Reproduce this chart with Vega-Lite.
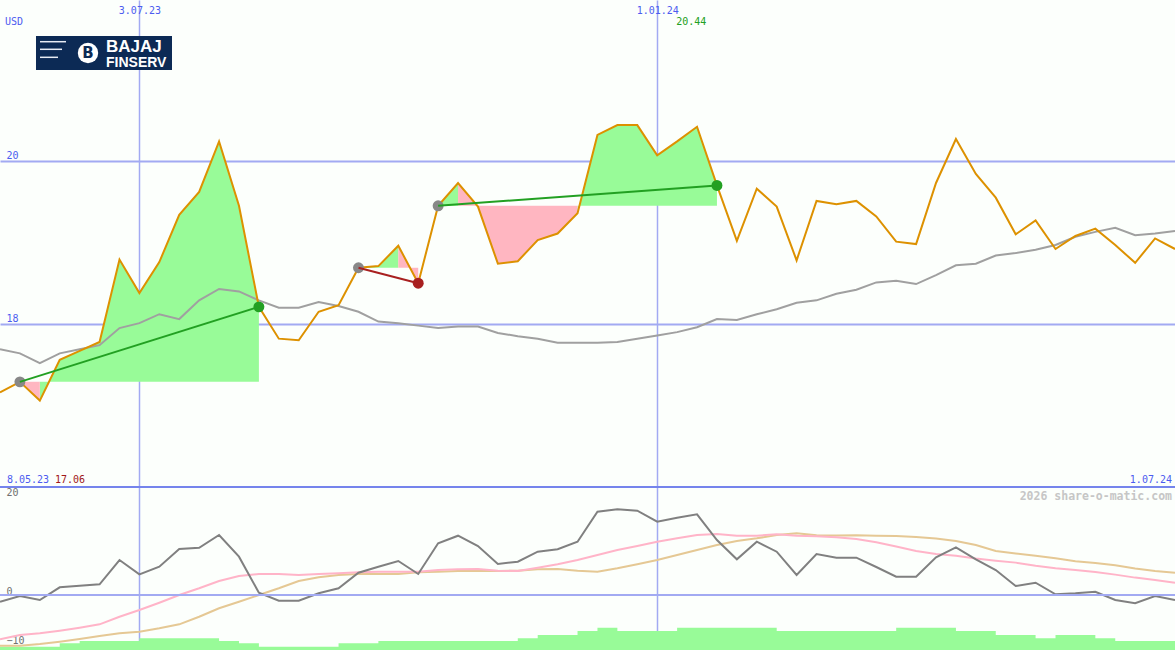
{
  "$schema": "https://vega.github.io/schema/vega-lite/v6.json",
  "background": "#fcfffc",
  "padding": 0,
  "spacing": 0,
  "bounds": "flush",
  "config": {
    "view": {"stroke": null},
    "axis": {"labelFont": "DejaVu Sans Mono", "labelFontSize": 10}
  },
  "datasets": {
    "px": [
      {"date": "2023-05-15", "close": 17.16, "ma": 17.69, "osc": -1.37, "s1": -9.04, "s2": -10.35, "vol": -10.55},
      {"date": "2023-05-22", "close": 17.29, "ma": 17.64, "osc": -0.20, "s1": -8.16, "s2": -10.35, "vol": -10.55},
      {"date": "2023-05-29", "close": 17.06, "ma": 17.52, "osc": -1.02, "s1": -7.82, "s2": -10.0, "vol": -10.55},
      {"date": "2023-06-05", "close": 17.56, "ma": 17.64, "osc": 1.57, "s1": -7.29, "s2": -9.53, "vol": -9.86},
      {"date": "2023-06-12", "close": 17.67, "ma": 17.69, "osc": 1.90, "s1": -6.67, "s2": -8.98, "vol": -9.39},
      {"date": "2023-06-19", "close": 17.78, "ma": 17.74, "osc": 2.18, "s1": -5.98, "s2": -8.37, "vol": -9.39},
      {"date": "2023-06-26", "close": 18.79, "ma": 17.95, "osc": 7.14, "s1": -4.43, "s2": -7.82, "vol": -9.39},
      {"date": "2023-07-03", "close": 18.38, "ma": 18.01, "osc": 4.22, "s1": -3.06, "s2": -7.49, "vol": -8.84},
      {"date": "2023-07-10", "close": 18.76, "ma": 18.12, "osc": 5.78, "s1": -1.57, "s2": -6.80, "vol": -8.84},
      {"date": "2023-07-17", "close": 19.34, "ma": 18.06, "osc": 9.39, "s1": 0.0, "s2": -5.98, "vol": -8.84},
      {"date": "2023-07-24", "close": 19.62, "ma": 18.29, "osc": 9.65, "s1": 1.37, "s2": -4.43, "vol": -8.84},
      {"date": "2023-07-31", "close": 20.24, "ma": 18.43, "osc": 12.24, "s1": 2.86, "s2": -2.71, "vol": -9.39},
      {"date": "2023-08-07", "close": 19.45, "ma": 18.40, "osc": 7.82, "s1": 3.88, "s2": -1.37, "vol": -9.86},
      {"date": "2023-08-14", "close": 18.21, "ma": 18.29, "osc": 0.47, "s1": 4.29, "s2": 0.0, "vol": -10.55},
      {"date": "2023-08-21", "close": 17.82, "ma": 18.20, "osc": -1.16, "s1": 4.29, "s2": 1.37, "vol": -10.55},
      {"date": "2023-08-28", "close": 17.80, "ma": 18.20, "osc": -1.16, "s1": 4.08, "s2": 2.86, "vol": -10.55},
      {"date": "2023-09-04", "close": 18.15, "ma": 18.27, "osc": 0.35, "s1": 4.29, "s2": 3.61, "vol": -10.55},
      {"date": "2023-09-11", "close": 18.23, "ma": 18.22, "osc": 1.37, "s1": 4.43, "s2": 4.08, "vol": -9.86},
      {"date": "2023-09-18", "close": 18.69, "ma": 18.15, "osc": 4.55, "s1": 4.63, "s2": 4.29, "vol": -9.86},
      {"date": "2023-09-25", "close": 18.71, "ma": 18.03, "osc": 5.78, "s1": 4.76, "s2": 4.29, "vol": -9.39},
      {"date": "2023-10-02", "close": 18.96, "ma": 18.01, "osc": 6.94, "s1": 4.76, "s2": 4.29, "vol": -9.39},
      {"date": "2023-10-09", "close": 18.50, "ma": 17.98, "osc": 4.29, "s1": 4.76, "s2": 4.63, "vol": -9.39},
      {"date": "2023-10-16", "close": 19.45, "ma": 17.95, "osc": 10.55, "s1": 5.10, "s2": 4.76, "vol": -9.39},
      {"date": "2023-10-23", "close": 19.73, "ma": 17.97, "osc": 12.10, "s1": 5.24, "s2": 4.90, "vol": -9.39},
      {"date": "2023-10-30", "close": 19.44, "ma": 17.97, "osc": 10.0, "s1": 5.31, "s2": 4.96, "vol": -9.39},
      {"date": "2023-11-06", "close": 18.74, "ma": 17.89, "osc": 6.33, "s1": 4.96, "s2": 4.90, "vol": -9.39},
      {"date": "2023-11-13", "close": 18.77, "ma": 17.85, "osc": 6.80, "s1": 4.90, "s2": 4.96, "vol": -8.84},
      {"date": "2023-11-20", "close": 19.03, "ma": 17.82, "osc": 8.84, "s1": 5.57, "s2": 5.24, "vol": -8.16},
      {"date": "2023-11-27", "close": 19.11, "ma": 17.77, "osc": 9.33, "s1": 6.27, "s2": 5.31, "vol": -8.16},
      {"date": "2023-12-04", "close": 19.36, "ma": 17.77, "osc": 10.88, "s1": 7.14, "s2": 4.96, "vol": -7.35},
      {"date": "2023-12-11", "close": 20.32, "ma": 17.77, "osc": 17.0, "s1": 8.16, "s2": 4.76, "vol": -6.67},
      {"date": "2023-12-18", "close": 20.44, "ma": 17.78, "osc": 17.49, "s1": 9.18, "s2": 5.45, "vol": -7.35},
      {"date": "2023-12-25", "close": 20.44, "ma": 17.82, "osc": 17.2, "s1": 10.0, "s2": 6.27, "vol": -7.35},
      {"date": "2024-01-01", "close": 20.07, "ma": 17.86, "osc": 14.96, "s1": 10.88, "s2": 7.14, "vol": -7.35},
      {"date": "2024-01-08", "close": 20.24, "ma": 17.90, "osc": 15.78, "s1": 11.57, "s2": 8.16, "vol": -6.67},
      {"date": "2024-01-15", "close": 20.42, "ma": 17.96, "osc": 16.47, "s1": 12.24, "s2": 9.18, "vol": -6.67},
      {"date": "2024-01-22", "close": 19.70, "ma": 18.06, "osc": 11.22, "s1": 12.45, "s2": 10.2, "vol": -6.67},
      {"date": "2024-01-29", "close": 19.02, "ma": 18.05, "osc": 7.29, "s1": 12.1, "s2": 11.02, "vol": -6.67},
      {"date": "2024-02-05", "close": 19.66, "ma": 18.12, "osc": 10.88, "s1": 12.1, "s2": 11.57, "vol": -6.67},
      {"date": "2024-02-12", "close": 19.44, "ma": 18.18, "osc": 8.84, "s1": 12.39, "s2": 12.24, "vol": -7.35},
      {"date": "2024-02-19", "close": 18.78, "ma": 18.26, "osc": 4.08, "s1": 12.1, "s2": 12.59, "vol": -7.35},
      {"date": "2024-02-26", "close": 19.51, "ma": 18.29, "osc": 8.37, "s1": 12.0, "s2": 12.2, "vol": -7.35},
      {"date": "2024-03-04", "close": 19.47, "ma": 18.37, "osc": 7.61, "s1": 11.8, "s2": 12.14, "vol": -7.35},
      {"date": "2024-03-11", "close": 19.51, "ma": 18.42, "osc": 7.61, "s1": 11.43, "s2": 12.2, "vol": -7.35},
      {"date": "2024-03-18", "close": 19.32, "ma": 18.51, "osc": 5.71, "s1": 10.78, "s2": 12.1, "vol": -7.35},
      {"date": "2024-03-25", "close": 19.01, "ma": 18.53, "osc": 3.73, "s1": 9.9, "s2": 12.04, "vol": -6.67},
      {"date": "2024-04-01", "close": 18.98, "ma": 18.49, "osc": 3.73, "s1": 8.98, "s2": 11.84, "vol": -6.67},
      {"date": "2024-04-08", "close": 19.73, "ma": 18.60, "osc": 7.69, "s1": 8.37, "s2": 11.53, "vol": -6.67},
      {"date": "2024-04-15", "close": 20.27, "ma": 18.72, "osc": 9.73, "s1": 8.0, "s2": 11.02, "vol": -7.35},
      {"date": "2024-04-22", "close": 19.84, "ma": 18.74, "osc": 7.29, "s1": 7.43, "s2": 10.2, "vol": -7.35},
      {"date": "2024-04-29", "close": 19.55, "ma": 18.84, "osc": 5.10, "s1": 6.98, "s2": 8.98, "vol": -8.16},
      {"date": "2024-05-06", "close": 19.10, "ma": 18.87, "osc": 1.84, "s1": 6.61, "s2": 8.47, "vol": -8.16},
      {"date": "2024-05-13", "close": 19.27, "ma": 18.91, "osc": 2.51, "s1": 5.98, "s2": 8.02, "vol": -8.84},
      {"date": "2024-05-20", "close": 18.92, "ma": 18.97, "osc": 0.14, "s1": 5.47, "s2": 7.51, "vol": -8.16},
      {"date": "2024-05-27", "close": 19.08, "ma": 19.07, "osc": 0.35, "s1": 5.12, "s2": 6.90, "vol": -8.16},
      {"date": "2024-06-03", "close": 19.17, "ma": 19.13, "osc": 0.67, "s1": 4.69, "s2": 6.53, "vol": -8.84},
      {"date": "2024-06-10", "close": 18.97, "ma": 19.18, "osc": -1.02, "s1": 4.16, "s2": 6.06, "vol": -9.39},
      {"date": "2024-06-17", "close": 18.75, "ma": 19.09, "osc": -1.69, "s1": 3.55, "s2": 5.39, "vol": -9.39},
      {"date": "2024-06-24", "close": 19.05, "ma": 19.11, "osc": -0.20, "s1": 3.04, "s2": 4.92, "vol": -9.39},
      {"date": "2024-07-01", "close": 18.92, "ma": 19.14, "osc": -1.02, "s1": 2.51, "s2": 4.55, "vol": -9.39}
    ],
    "gain": [
      {"run": "a", "date": "2023-05-29", "close": 17.06, "entry": 17.29},
      {"run": "a", "date": "2023-06-05", "close": 17.56, "entry": 17.29},
      {"run": "a", "date": "2023-06-12", "close": 17.67, "entry": 17.29},
      {"run": "a", "date": "2023-06-19", "close": 17.78, "entry": 17.29},
      {"run": "a", "date": "2023-06-26", "close": 18.79, "entry": 17.29},
      {"run": "a", "date": "2023-07-03", "close": 18.38, "entry": 17.29},
      {"run": "a", "date": "2023-07-10", "close": 18.76, "entry": 17.29},
      {"run": "a", "date": "2023-07-17", "close": 19.34, "entry": 17.29},
      {"run": "a", "date": "2023-07-24", "close": 19.62, "entry": 17.29},
      {"run": "a", "date": "2023-07-31", "close": 20.24, "entry": 17.29},
      {"run": "a", "date": "2023-08-07", "close": 19.45, "entry": 17.29},
      {"run": "a", "date": "2023-08-14", "close": 18.21, "entry": 17.29},
      {"run": "b", "date": "2023-09-18", "close": 18.69, "entry": 18.69},
      {"run": "b", "date": "2023-09-25", "close": 18.71, "entry": 18.69},
      {"run": "b", "date": "2023-10-02", "close": 18.96, "entry": 18.69},
      {"run": "c", "date": "2023-10-16", "close": 19.45, "entry": 19.45},
      {"run": "c", "date": "2023-10-23", "close": 19.73, "entry": 19.45},
      {"run": "d", "date": "2023-12-04", "close": 19.36, "entry": 19.45},
      {"run": "d", "date": "2023-12-11", "close": 20.32, "entry": 19.45},
      {"run": "d", "date": "2023-12-18", "close": 20.44, "entry": 19.45},
      {"run": "d", "date": "2023-12-25", "close": 20.44, "entry": 19.45},
      {"run": "d", "date": "2024-01-01", "close": 20.07, "entry": 19.45},
      {"run": "d", "date": "2024-01-08", "close": 20.24, "entry": 19.45},
      {"run": "d", "date": "2024-01-15", "close": 20.42, "entry": 19.45},
      {"run": "d", "date": "2024-01-22", "close": 19.70, "entry": 19.45}
    ],
    "loss": [
      {"run": "e", "date": "2023-05-22", "close": 17.29, "entry": 17.29},
      {"run": "e", "date": "2023-05-29", "close": 17.06, "entry": 17.29},
      {"run": "f", "date": "2023-10-02", "close": 18.96, "entry": 18.69},
      {"run": "f", "date": "2023-10-09", "close": 18.50, "entry": 18.69},
      {"run": "g", "date": "2023-10-23", "close": 19.73, "entry": 19.45},
      {"run": "g", "date": "2023-10-30", "close": 19.44, "entry": 19.45},
      {"run": "g", "date": "2023-11-06", "close": 18.74, "entry": 19.45},
      {"run": "g", "date": "2023-11-13", "close": 18.77, "entry": 19.45},
      {"run": "g", "date": "2023-11-20", "close": 19.03, "entry": 19.45},
      {"run": "g", "date": "2023-11-27", "close": 19.11, "entry": 19.45},
      {"run": "g", "date": "2023-12-04", "close": 19.36, "entry": 19.45}
    ],
    "trades": [
      {"d1": "2023-05-22", "p1": 17.29, "d2": "2023-08-14", "p2": 18.21, "result": "win"},
      {"d1": "2023-09-18", "p1": 18.69, "d2": "2023-10-09", "p2": 18.50, "result": "loss"},
      {"d1": "2023-10-16", "p1": 19.45, "d2": "2024-01-22", "p2": 19.70, "result": "win"}
    ],
    "signals": [
      {"date": "2023-05-22", "price": 17.29, "kind": "entry"},
      {"date": "2023-09-18", "price": 18.69, "kind": "entry"},
      {"date": "2023-10-16", "price": 19.45, "kind": "entry"},
      {"date": "2023-08-14", "price": 18.21, "kind": "win"},
      {"date": "2024-01-22", "price": 19.70, "kind": "win"},
      {"date": "2023-10-09", "price": 18.50, "kind": "loss"}
    ]
  },
  "vconcat": [
    {
      "width": 1175,
      "height": 487,
      "layer": [
        {
          "encoding": {
            "x": {"field": "date", "type": "temporal",
              "scale": {"type": "utc", "nice": false, "domain": [{"year": 2023, "month": 5, "date": 15, "utc": true}, {"year": 2024, "month": 7, "date": 1, "utc": true}]},
              "axis": {"orient": "top", "title": null, "values": [{"year": 2023, "month": 7, "date": 3, "utc": true}, {"year": 2024, "month": 1, "date": 1, "utc": true}], "labelExpr": "utcFormat(datum.value, '%-d.%m.%y')", "domain": false, "ticks": false, "grid": true, "gridColor": "#a2aaf2", "gridWidth": 1.5, "labelColor": "#4c5cf0", "labelPadding": -15, "labelBaseline": "bottom", "labelFlush": false, "labelOverlap": false}},
            "y": {"field": "close", "type": "quantitative",
              "scale": {"domain": [16.0, 21.975], "nice": false, "zero": false},
              "axis": {"title": null, "values": [18, 20], "format": "d", "labelExpr": "format(datum.value, 'd')", "domain": false, "ticks": false, "grid": true, "gridColor": "#a2aaf2", "gridWidth": 2, "labelAlign": "left", "labelBaseline": "bottom", "labelPadding": -6, "labelColor": "#4c5cf0"}}
          },
          "layer": [
            {
              "data": {"name": "gain"},
              "mark": {"type": "area", "color": "#98fb98", "opacity": 1},
              "encoding": {"y2": {"field": "entry"}, "detail": {"field": "run"}}
            },
            {
              "data": {"name": "loss"},
              "mark": {"type": "area", "color": "#ffb6c1", "opacity": 1},
              "encoding": {"y2": {"field": "entry"}, "detail": {"field": "run"}}
            },
            {
              "data": {"name": "px"},
              "mark": {"type": "line", "color": "#a0a0a0", "strokeWidth": 2, "clip": true},
              "encoding": {"y": {"field": "ma", "type": "quantitative"}}
            },
            {
              "data": {"name": "px"},
              "mark": {"type": "line", "color": "#dd9100", "strokeWidth": 2, "clip": true}
            },
            {
              "data": {"name": "signals"},
              "transform": [{"filter": "datum.kind == 'entry'"}],
              "mark": {"type": "circle", "size": 120, "color": "#888888", "opacity": 1},
              "encoding": {"y": {"field": "price", "type": "quantitative"}}
            },
            {
              "data": {"name": "signals"},
              "transform": [{"filter": "datum.kind == 'win'"}],
              "mark": {"type": "circle", "size": 120, "color": "#22a022", "opacity": 1},
              "encoding": {"y": {"field": "price", "type": "quantitative"}}
            },
            {
              "data": {"name": "signals"},
              "transform": [{"filter": "datum.kind == 'loss'"}],
              "mark": {"type": "circle", "size": 120, "color": "#a82020", "opacity": 1},
              "encoding": {"y": {"field": "price", "type": "quantitative"}}
            },
            {
              "data": {"name": "trades"},
              "transform": [{"filter": "datum.result == 'win'"}],
              "mark": {"type": "rule", "color": "#22a022", "strokeWidth": 2},
              "encoding": {"x": {"field": "d1", "type": "temporal"}, "x2": {"field": "d2"}, "y": {"field": "p1", "type": "quantitative"}, "y2": {"field": "p2"}}
            },
            {
              "data": {"name": "trades"},
              "transform": [{"filter": "datum.result == 'loss'"}],
              "mark": {"type": "rule", "color": "#a82020", "strokeWidth": 2},
              "encoding": {"x": {"field": "d1", "type": "temporal"}, "x2": {"field": "d2"}, "y": {"field": "p1", "type": "quantitative"}, "y2": {"field": "p2"}}
            }
          ]
        },
        {
          "data": {"values": [{}]},
          "mark": {"type": "rule", "color": "#7584ec", "strokeWidth": 2, "clip": true},
          "encoding": {"x": {"datum": {"year": 2023, "month": 5, "date": 15, "utc": true}}, "x2": {"datum": {"year": 2024, "month": 7, "date": 1, "utc": true}}, "y": {"datum": 16.0}}
        },
        {
          "data": {"values": [{}]},
          "mark": {"type": "text", "text": "USD", "align": "left", "baseline": "alphabetic", "dx": 5, "dy": 25, "color": "#4c5cf0", "font": "DejaVu Sans Mono", "fontSize": 10},
          "encoding": {"x": {"datum": {"year": 2023, "month": 5, "date": 15, "utc": true}}, "y": {"datum": 21.975}}
        },
        {
          "data": {"values": [{}]},
          "mark": {"type": "text", "text": "20.44", "align": "left", "baseline": "alphabetic", "dx": 19, "dy": 25, "color": "#22a022", "font": "DejaVu Sans Mono", "fontSize": 10},
          "encoding": {"x": {"datum": {"year": 2024, "month": 1, "date": 1, "utc": true}}, "y": {"datum": 21.975}}
        },
        {
          "data": {"values": [{}]},
          "mark": {"type": "text", "text": "8.05.23", "align": "left", "baseline": "alphabetic", "dx": 7, "dy": -4, "color": "#4c5cf0", "font": "DejaVu Sans Mono", "fontSize": 10},
          "encoding": {"x": {"datum": {"year": 2023, "month": 5, "date": 15, "utc": true}}, "y": {"datum": 16.0}}
        },
        {
          "data": {"values": [{}]},
          "mark": {"type": "text", "text": "17.06", "align": "left", "baseline": "alphabetic", "dx": 55, "dy": -4, "color": "#a01818", "font": "DejaVu Sans Mono", "fontSize": 10},
          "encoding": {"x": {"datum": {"year": 2023, "month": 5, "date": 15, "utc": true}}, "y": {"datum": 16.0}}
        },
        {
          "data": {"values": [{}]},
          "mark": {"type": "text", "text": "1.07.24", "align": "right", "baseline": "alphabetic", "dx": -3, "dy": -4, "color": "#4c5cf0", "font": "DejaVu Sans Mono", "fontSize": 10},
          "encoding": {"x": {"datum": {"year": 2024, "month": 7, "date": 1, "utc": true}}, "y": {"datum": 16.0}}
        },
        {
          "data": {"values": [{}]},
          "mark": {"type": "rect", "color": "#0c2a55", "opacity": 1},
          "encoding": {
            "x": {"datum": {"year": 2023, "month": 5, "date": 27, "hours": 15, "minutes": 41, "utc": true}},
            "x2": {"datum": {"year": 2023, "month": 7, "date": 14, "hours": 10, "minutes": 57, "utc": true}},
            "y": {"datum": 21.5333},
            "y2": {"datum": 21.1161}
          }
        },
        {
          "data": {"values": [{}]},
          "mark": {"type": "rule", "color": "#e8ecf4", "strokeWidth": 1.5},
          "encoding": {
            "x": {"datum": {"year": 2023, "month": 5, "date": 29, "hours": 1, "minutes": 26, "utc": true}},
            "x2": {"datum": {"year": 2023, "month": 6, "date": 7, "hours": 4, "minutes": 46, "utc": true}},
            "y": {"datum": 21.4633}
          }
        },
        {
          "data": {"values": [{}]},
          "mark": {"type": "rule", "color": "#e8ecf4", "strokeWidth": 1.5},
          "encoding": {
            "x": {"datum": {"year": 2023, "month": 5, "date": 29, "hours": 1, "minutes": 26, "utc": true}},
            "x2": {"datum": {"year": 2023, "month": 6, "date": 5, "hours": 19, "minutes": 1, "utc": true}},
            "y": {"datum": 21.3701}
          }
        },
        {
          "data": {"values": [{}]},
          "mark": {"type": "rule", "color": "#e8ecf4", "strokeWidth": 1.5},
          "encoding": {
            "x": {"datum": {"year": 2023, "month": 5, "date": 29, "hours": 1, "minutes": 26, "utc": true}},
            "x2": {"datum": {"year": 2023, "month": 6, "date": 4, "hours": 9, "minutes": 16, "utc": true}},
            "y": {"datum": 21.2719}
          }
        },
        {
          "data": {"values": [{}]},
          "mark": {"type": "circle", "size": 415, "color": "#ffffff", "opacity": 1},
          "encoding": {
            "x": {"datum": {"year": 2023, "month": 6, "date": 14, "hours": 22, "minutes": 21, "utc": true}},
            "y": {"datum": 21.3247}
          }
        },
        {
          "data": {"values": [{}]},
          "mark": {"type": "text", "text": "B", "align": "center", "baseline": "middle", "color": "#0c2a55", "font": "DejaVu Sans", "fontWeight": "bold", "fontSize": 15},
          "encoding": {
            "x": {"datum": {"year": 2023, "month": 6, "date": 14, "hours": 22, "minutes": 21, "utc": true}},
            "y": {"datum": 21.3247}
          }
        },
        {
          "data": {"values": [{}]},
          "mark": {"type": "text", "text": "BAJAJ", "align": "left", "baseline": "alphabetic", "color": "#ffffff", "font": "Liberation Sans", "fontWeight": "bold", "fontSize": 17},
          "encoding": {
            "x": {"datum": {"year": 2023, "month": 6, "date": 21, "hours": 6, "minutes": 11, "utc": true}},
            "y": {"datum": 21.3407}
          }
        },
        {
          "data": {"values": [{}]},
          "mark": {"type": "text", "text": "FINSERV", "align": "left", "baseline": "alphabetic", "color": "#ffffff", "font": "Liberation Sans", "fontWeight": "bold", "fontSize": 14},
          "encoding": {
            "x": {"datum": {"year": 2023, "month": 6, "date": 21, "hours": 6, "minutes": 11, "utc": true}},
            "y": {"datum": 21.1566}
          }
        }
      ]
    },
    {
      "width": 1175,
      "height": 163,
      "layer": [
        {
          "encoding": {
            "x": {"field": "date", "type": "temporal",
              "scale": {"type": "utc", "nice": false, "domain": [{"year": 2023, "month": 5, "date": 15, "utc": true}, {"year": 2024, "month": 7, "date": 1, "utc": true}]},
              "axis": {"orient": "top", "title": null, "values": [{"year": 2023, "month": 7, "date": 3, "utc": true}, {"year": 2024, "month": 1, "date": 1, "utc": true}], "labels": false, "domain": false, "ticks": false, "grid": true, "gridColor": "#a2aaf2", "gridWidth": 1.5}},
            "y": {"field": "osc", "type": "quantitative",
              "scale": {"domain": [-11.22, 22.04], "nice": false, "zero": false},
              "axis": {"title": null, "values": [-10, 0, 20], "format": "d", "domain": false, "ticks": false, "grid": false, "labelAlign": "left", "labelBaseline": "bottom", "labelPadding": -6, "labelOffset": 1, "labelColor": "#707070"}}
          },
          "layer": [
            {
              "data": {"name": "px"},
              "mark": {"type": "area", "interpolate": "step-after", "color": "#98fb98", "opacity": 1, "clip": true},
              "encoding": {"y": {"field": "vol", "type": "quantitative"}, "y2": {"datum": -11.22}}
            },
            {
              "data": {"name": "px"},
              "mark": {"type": "line", "color": "#e5c894", "strokeWidth": 2, "clip": true},
              "encoding": {"y": {"field": "s2", "type": "quantitative"}}
            },
            {
              "data": {"name": "px"},
              "mark": {"type": "line", "color": "#ffb4c8", "strokeWidth": 2, "clip": true},
              "encoding": {"y": {"field": "s1", "type": "quantitative"}}
            },
            {
              "data": {"name": "px"},
              "mark": {"type": "line", "color": "#808080", "strokeWidth": 2, "clip": true}
            }
          ]
        },
        {
          "data": {"values": [{}]},
          "mark": {"type": "rule", "color": "#a2aaf2", "strokeWidth": 2, "clip": true},
          "encoding": {"x": {"datum": {"year": 2023, "month": 5, "date": 15, "utc": true}}, "x2": {"datum": {"year": 2024, "month": 7, "date": 1, "utc": true}}, "y": {"datum": 0}}
        },
        {
          "data": {"values": [{}]},
          "mark": {"type": "rule", "color": "#7584ec", "strokeWidth": 2, "clip": true},
          "encoding": {"x": {"datum": {"year": 2023, "month": 5, "date": 15, "utc": true}}, "x2": {"datum": {"year": 2024, "month": 7, "date": 1, "utc": true}}, "y": {"datum": 22.04}}
        },
        {
          "data": {"values": [{}]},
          "mark": {"type": "text", "text": "2026 share-o-matic.com", "align": "right", "baseline": "alphabetic", "dx": -3, "dy": 13, "color": "#c6c6c6", "font": "DejaVu Sans Mono", "fontWeight": "bold", "fontSize": 11.5},
          "encoding": {"x": {"datum": {"year": 2024, "month": 7, "date": 1, "utc": true}}, "y": {"datum": 22.04}}
        }
      ]
    }
  ]
}
